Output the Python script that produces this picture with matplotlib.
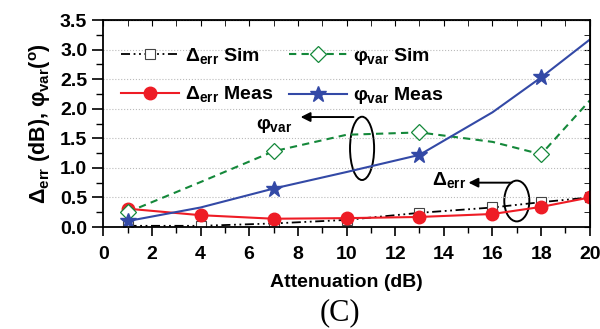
import matplotlib
matplotlib.use('Agg')
import matplotlib.pyplot as plt
from matplotlib.patches import Ellipse
from matplotlib.ticker import MultipleLocator, FormatStrFormatter

# Attenuation settings (dB)
atten = [1, 4, 7, 10, 13, 16, 18, 20]

# Amplitude error (dB)
d_err_sim = [0.02, 0.02, 0.06, 0.12, 0.24, 0.33, 0.42, 0.50]
d_err_meas = [0.31, 0.20, 0.14, 0.15, 0.17, 0.22, 0.34, 0.50]

# Phase variation (deg)
phi_var_sim = [0.25, 0.76, 1.28, 1.56, 1.60, 1.44, 1.23, 2.14]
phi_var_meas = [0.10, 0.33, 0.65, 0.93, 1.22, 1.94, 2.53, 3.17]

plt.rcParams['font.family'] = ['Liberation Sans', 'DejaVu Sans']
plt.rcParams['font.weight'] = 'bold'
plt.rcParams['mathtext.fontset'] = 'custom'
plt.rcParams['mathtext.rm'] = 'Liberation Sans'
plt.rcParams['mathtext.it'] = 'Liberation Sans'
plt.rcParams['mathtext.bf'] = 'Liberation Sans:bold'

FS = 14

fig = plt.figure(figsize=(6.0, 3.29), dpi=100)
ax = fig.add_axes([0.172, 0.31, 0.811, 0.629])

ax.plot(atten, d_err_sim, color='black', lw=1.3, dashes=[5, 2, 1, 2, 1, 2],
        marker='s', ms=7, mfc='white', mec='#444444', mew=0.8,
        label=r'$\Delta_{\mathbf{err}}$ Sim')
ax.plot(atten, d_err_meas, color='#ee1c25', lw=1.5,
        marker='o', ms=9, mfc='#ee1c25', mec='#ee1c25',
        label=r'$\Delta_{\mathbf{err}}$ Meas')
ax.plot(atten, phi_var_sim, color='#14883a', lw=1.5, dashes=[3.5, 2.5],
        marker='D', ms=8.5, mfc='white', mec='#14883a', mew=0.9,
        markevery=[0, 2, 4, 6],
        label=r'$\varphi_{\mathbf{var}}$ Sim')
ax.plot(atten, phi_var_meas, color='#3349a6', lw=1.5,
        marker='*', ms=12, mfc='#3349a6', mec='#3349a6',
        markevery=[0, 2, 4, 6],
        label=r'$\varphi_{\mathbf{var}}$ Meas')

ax.set_xlim(0, 20)
ax.set_ylim(0, 3.5)
ax.xaxis.set_major_locator(MultipleLocator(2))
ax.xaxis.set_minor_locator(MultipleLocator(1))
ax.yaxis.set_major_locator(MultipleLocator(0.5))
ax.yaxis.set_minor_locator(MultipleLocator(0.25))
ax.yaxis.set_major_formatter(FormatStrFormatter('%.1f'))
ax.tick_params(which='major', direction='out', width=1.2, labelsize=FS)
ax.tick_params(axis='x', which='major', length=6.5, pad=7)
ax.tick_params(axis='x', which='minor', direction='out', length=4.5, width=1.0)
ax.tick_params(axis='y', which='major', length=8, pad=3.5)
ax.tick_params(axis='y', which='minor', direction='out', length=5, width=1.0)
ax.grid(axis='y', which='major', color='#bbbbbb', ls=':', lw=0.8)
for s in ax.spines.values():
    s.set_linewidth(1.3)

# inward ticks on top and right sides
top = ax.secondary_xaxis('top')
top.xaxis.set_major_locator(MultipleLocator(2))
top.xaxis.set_minor_locator(MultipleLocator(1))
top.tick_params(which='both', direction='in', labeltop=False, length=4)
right = ax.secondary_yaxis('right')
right.yaxis.set_major_locator(MultipleLocator(0.5))
right.yaxis.set_minor_locator(MultipleLocator(0.25))
right.tick_params(which='both', direction='in', labelright=False, length=4)

ax.set_xlabel('Attenuation (dB)', fontsize=FS, fontweight='bold', labelpad=8)
ax.set_ylabel(r'$\Delta_{\mathbf{err}}$ (dB), $\varphi_{\mathbf{var}}$($^{\mathrm{o}}$)',
              fontsize=15.5, fontweight='bold', labelpad=5)

h, l = ax.get_legend_handles_labels()
ax.legend(h, l, ncol=2, loc='upper left', bbox_to_anchor=(0.0, 0.96),
          frameon=False, fontsize=FS, handlelength=3.0, labelspacing=0.95,
          columnspacing=0.8, handletextpad=0.3)

# group markers
ax.add_patch(Ellipse((10.64, 1.33), 0.99, 1.07, fill=False, lw=1.4, ec='black'))
ax.annotate('', xy=(8.0, 1.86), xytext=(10.4, 1.86),
            arrowprops=dict(arrowstyle='-|>', color='black', lw=1.4,
                            mutation_scale=14))
ax.text(6.3, 1.72, r'$\varphi_{\mathbf{var}}$', fontsize=FS, va='center')

ax.add_patch(Ellipse((17.0, 0.44), 1.03, 0.69, fill=False, lw=1.4, ec='black'))
ax.annotate('', xy=(14.9, 0.75), xytext=(16.9, 0.75),
            arrowprops=dict(arrowstyle='-|>', color='black', lw=1.4,
                            mutation_scale=14))
ax.text(13.5, 0.8, r'$\Delta_{\mathbf{err}}$', fontsize=FS, va='center')

fig.text(0.567, 0.05, '(C)', family='Liberation Serif', fontweight='normal',
         fontsize=22, ha='center', va='center')

fig.savefig('out.png', dpi=100)
